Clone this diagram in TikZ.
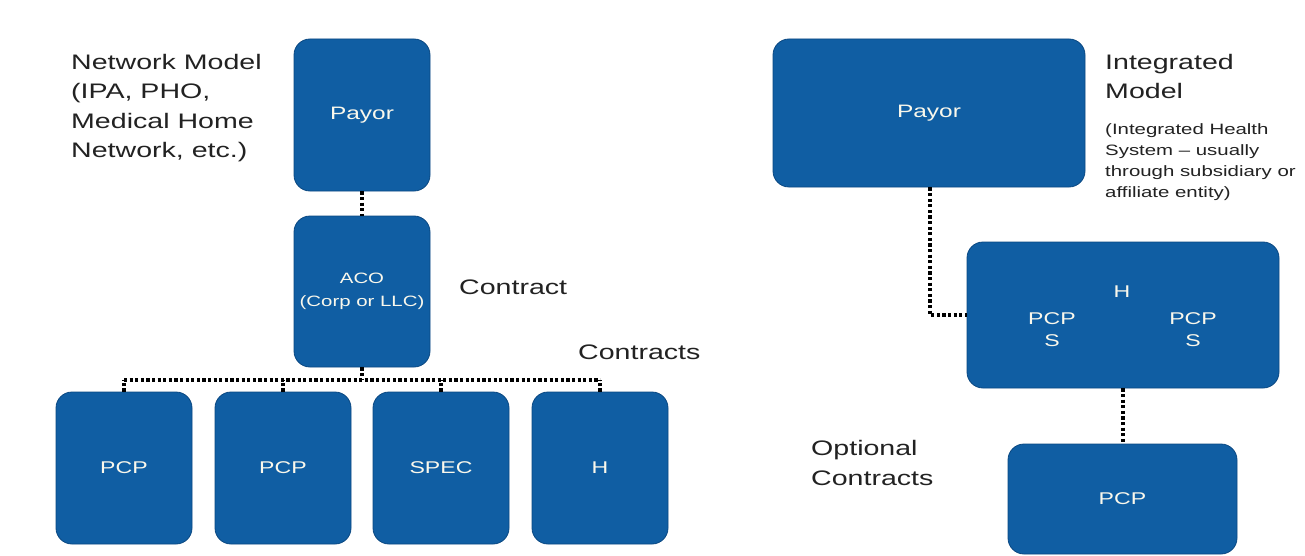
\documentclass[tikz,border=0pt]{standalone}
\usepackage{fontspec}
\setmainfont{Liberation Sans}[FakeStretch=1.36]
\definecolor{boxblue}{RGB}{16,94,163}
\definecolor{boxedge}{RGB}{10,72,130}
\definecolor{labelgray}{RGB}{34,34,34}
\definecolor{boxtext}{RGB}{250,248,236}
\tikzset{
  bluebox/.style={draw=boxedge, line width=0.8pt, fill=boxblue, rounded corners=16pt, inner sep=0pt,
    text=boxtext, align=center},
  boxlabel/.style={text=boxtext, inner sep=0pt, align=center, font=\fontsize{17}{22}\selectfont},
  biglabel/.style={text=labelgray, inner sep=0pt, align=left, font=\fontsize{21}{29.5}\selectfont},
  smalllabel/.style={text=labelgray, inner sep=0pt, align=left, font=\fontsize{15}{21}\selectfont},
  dotline/.style={line width=3.2pt, dash pattern=on 3.2pt off 2.4pt, black}
}
\begin{document}
\begin{tikzpicture}[x=1pt,y=-1pt]
\useasboundingbox[fill=white] (0,0) rectangle (1305,556);
% left side
\node[bluebox, minimum width=136pt, minimum height=152pt, font=\fontsize{18}{22}\selectfont] (lpay) at (362,115) {Payor};
\node[bluebox, minimum width=136pt, minimum height=151pt, font=\fontsize{15}{23}\selectfont] (aco) at (362,291.5) {ACO\\(Corp or LLC)};
\node[bluebox, minimum width=136pt, minimum height=152pt, font=\fontsize{17}{22}\selectfont] (pcpa) at (124,468) {PCP};
\node[bluebox, minimum width=136pt, minimum height=152pt, font=\fontsize{17}{22}\selectfont] (pcpb) at (283,468) {PCP};
\node[bluebox, minimum width=136pt, minimum height=152pt, font=\fontsize{17}{22}\selectfont] (spec) at (441,468) {SPEC};
\node[bluebox, minimum width=136pt, minimum height=152pt, font=\fontsize{17}{22}\selectfont] (hosp) at (600,468) {H};
\coordinate (bus) at (0,380);
\draw[dotline] (lpay.south) -- (aco.north);
\draw[dotline] (aco.south) -- (aco.south |- bus);
\draw[dotline] (pcpa.north |- bus) -- (hosp.north |- bus);
\draw[dotline] (pcpa.north) -- (pcpa.north |- bus);
\draw[dotline] (pcpb.north) -- (pcpb.north |- bus);
\draw[dotline] (spec.north) -- (spec.north |- bus);
\draw[dotline] (hosp.north) -- (hosp.north |- bus);
\node[biglabel, anchor=north west] (netlbl) at (71,54) {Network Model\\(IPA, PHO,\\Medical Home\\Network, etc.)};
\node[biglabel, anchor=west] (contract) at (459,287) {Contract};
\node[biglabel, anchor=west] (contracts) at (578,352) {Contracts};
% right side
\node[bluebox, minimum width=312pt, minimum height=148pt, font=\fontsize{18}{22}\selectfont] (rpay) at (929,113) {Payor};
\node[bluebox, minimum width=312pt, minimum height=146pt] (ibox) at (1123,315) {};
\node[boxlabel] (ih) at (1122,292) {H};
\node[boxlabel] (ipl) at (1052,330) {PCP\\S};
\node[boxlabel] (ipr) at (1193,330) {PCP\\S};
\node[bluebox, minimum width=229pt, minimum height=110pt, font=\fontsize{17}{22}\selectfont] (rpcp) at (1122.5,499) {PCP};
\draw[dotline] (rpay.south -| 930,0) |- (ibox.west);
\draw[dotline] (ibox.south) -- (ibox.south |- rpcp.north);
\node[biglabel, anchor=north west] (intlbl) at (1105,54) {Integrated\\Model};
\node[smalllabel, anchor=north west] (intsub) at (1105,123) {(Integrated Health\\System -- usually\\through subsidiary or\\affiliate entity)};
\node[biglabel, anchor=west] (optlbl) at (811,463) {Optional\\Contracts};
\end{tikzpicture}
\end{document}
